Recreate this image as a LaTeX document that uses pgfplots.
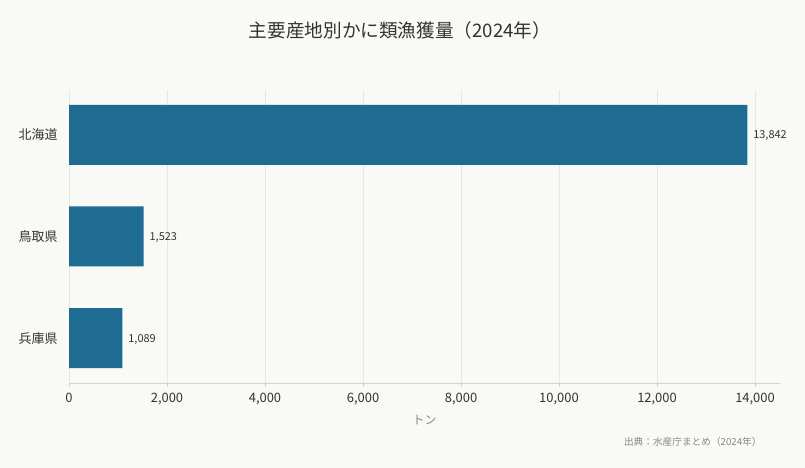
\documentclass[border=0pt]{standalone}
\usepackage{pgfplots}
\pgfplotsset{compat=1.18}
\usepackage{fontspec}
\setmainfont{Noto Sans CJK JP}
\definecolor{bgc}{HTML}{F9F9F5}
\definecolor{barc}{HTML}{1F6C93}
\definecolor{gridc}{HTML}{E6E6E3}
\definecolor{axisc}{HTML}{D2D2CF}
\definecolor{txt}{HTML}{333333}
\definecolor{note}{HTML}{888888}
\begin{document}
\begin{tikzpicture}[x=1bp,y=1bp]
  \fill[bgc] (0,0) rectangle (805,468);
  \node[txt, font=\fontsize{18.7}{19}\selectfont] at (400,438) {主要産地別かに類漁獲量（2024年）};
  \begin{axis}[
      at={(69bp,85bp)}, anchor=south west,
      scale only axis, width=711bp, height=293bp,
      xbar, bar width=60bp,
      xmin=0, xmax=14510, ymin=-0.44, ymax=2.44,
      ytick={0,1,2}, yticklabels={兵庫県,鳥取県,北海道},
      xtick={0,2000,...,14000},
      scaled x ticks=false,
      axis x line*=bottom, axis y line*=left,
      y axis line style={draw=none},
      x axis line style={axisc, line width=0.8pt},
      ytick style={draw=none},
      xtick style={axisc, line width=0.8pt},
      tick align=outside, major tick length=4bp,
      xmajorgrids, grid style={gridc, line width=0.7pt},
      tick label style={txt, font=\fontsize{13}{13}\selectfont},
      x tick label style={yshift=-3bp},
      y tick label style={xshift=-4bp},
      /pgf/number format/assume math mode=true,
      /pgf/number format/1000 sep={,},
      xlabel={トン}, xlabel style={note, font=\fontsize{12}{12}\selectfont, yshift=-3bp},
      point meta=x,
      nodes near coords={\pgfmathprintnumber[fixed,precision=0,1000 sep={,},assume math mode=true]{\pgfplotspointmeta}},
      nodes near coords style={anchor=west, xshift=2.5bp, yshift=-1bp, txt, font=\fontsize{11}{11}\selectfont},
    ]
    \addplot[fill=barc, draw=none] coordinates {(13842,2) (1523,1) (1089,0)};
  \end{axis}
  \node[note, anchor=east, font=\fontsize{9.7}{10}\selectfont] at (765,26) {出典：水産庁まとめ（2024年）};
\end{tikzpicture}
\end{document}
